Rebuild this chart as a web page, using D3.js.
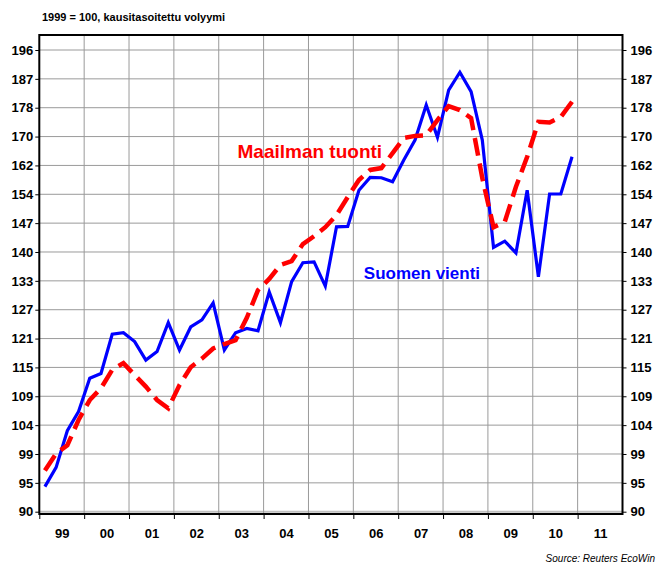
<!DOCTYPE html>
<html>
<head>
<meta charset="utf-8">
<script src="https://cdn.jsdelivr.net/npm/d3@7"></script>
<style>
body { margin: 0; background: #fff; }
svg text { font-family: "Liberation Sans", Arial, sans-serif; }
</style>
</head>
<body>
<svg id="chart"></svg>
<script>
// quarterly data 1999Q1 .. 2010Q4, 1999 = 100
var suomenVienti = [
    93.9, 97.0, 103.2, 106.6, 112.8, 113.7, 121.5, 121.8,
    120.0, 116.3, 118.0, 123.9, 118.3, 123.0, 124.5, 128.1,
    118.3, 121.8, 122.7, 122.2, 130.5, 123.9, 132.8, 137.1,
    137.3, 131.8, 145.7, 145.8, 155.0, 158.4, 158.3, 157.2,
    163.1, 168.7, 179.0, 169.5, 183.6, 189.2, 183.1, 168.7,
    140.7, 142.2, 139.4, 155.0, 133.9, 154.0, 154.0, 164.0
];
var maailmanTuonti = [
    96.5, 99.3, 100.7, 105.1, 108.7, 110.9, 114.4, 115.7,
    113.4, 111.2, 108.7, 107.2, 111.5, 114.9, 116.6, 118.6,
    119.5, 120.3, 124.9, 130.9, 133.4, 136.6, 137.5, 141.5,
    143.4, 145.6, 148.6, 153.2, 157.7, 160.4, 160.9, 165.0,
    169.3, 169.9, 170.1, 174.5, 178.7, 177.5, 175.1, 158.2,
    145.6, 146.9, 155.9, 164.0, 174.0, 173.8, 175.4, 180.0
];
var startYear = 1999;
var yearLabels = ["99","00","01","02","03","04","05","06","07","08","09","10","11"];
var yTickLabels = [90,95,99,104,109,115,121,127,133,140,147,154,162,170,178,187,196];

var screen = {width:666, height:565};
var margins = {left:39.3, right:43.5, top:35, bottom:51};
var graph = {
    width: screen.width - margins.left - margins.right,
    height: screen.height - margins.top - margins.bottom
};

var svg = d3.select("#chart")
    .attr("width", screen.width)
    .attr("height", screen.height);

// x: years, 13 year slots
var xScale = d3.scaleLinear()
    .domain([startYear, startYear + yearLabels.length])
    .range([0, graph.width]);

// y: log scale, ticks step 5% from 90
var tickVals = yTickLabels.map(function(d, i) { return 90 * Math.pow(1.05, i); });
var yScale = d3.scaleLog()
    .domain([tickVals[0], tickVals[tickVals.length - 1]])
    .range([graph.height - 2.3, 15]);

var g = svg.append("g")
    .attr("transform", "translate(" + margins.left + "," + margins.top + ")");

// horizontal grid
g.append("g")
    .selectAll("line")
    .data(tickVals)
    .enter()
    .append("line")
    .attr("x1", 0)
    .attr("x2", graph.width)
    .attr("y1", function(d) { return yScale(d); })
    .attr("y2", function(d) { return yScale(d); })
    .attr("stroke", function(d, i) { return i == 0 ? "#c0c0c0" : "#9a9a9a"; })
    .attr("stroke-width", function(d, i) { return i == 0 ? 2 : 1; });

// vertical grid at year boundaries
var yearBounds = d3.range(1, yearLabels.length).map(function(i) { return startYear + i; });
g.append("g")
    .selectAll("line")
    .data(yearBounds)
    .enter()
    .append("line")
    .attr("x1", function(d) { return xScale(d); })
    .attr("x2", function(d) { return xScale(d); })
    .attr("y1", 0)
    .attr("y2", graph.height)
    .attr("stroke", "#9a9a9a")
    .attr("stroke-width", 1);

// frame
g.append("rect")
    .attr("x", 0).attr("y", 0)
    .attr("width", graph.width).attr("height", graph.height)
    .attr("fill", "none")
    .attr("stroke", "#000")
    .attr("stroke-width", 2);

// axes
var fmt = function(d, i) { return yTickLabels[i]; };
var leftAxis = d3.axisLeft(yScale).tickValues(tickVals).tickFormat(fmt).tickSize(4).tickPadding(2);
var rightAxis = d3.axisRight(yScale).tickValues(tickVals).tickFormat(fmt).tickSize(4).tickPadding(4);

var styleAxis = function(sel) {
    sel.select(".domain").remove();
    sel.selectAll("text")
        .attr("font-size", "13px")
        .attr("font-weight", "bold")
        .attr("fill", "#000");
    sel.selectAll("line").attr("stroke", "#000");
};

g.append("g").call(leftAxis).call(styleAxis);
g.append("g").attr("transform", "translate(" + graph.width + ",0)").call(rightAxis).call(styleAxis);

// bottom ticks at year boundaries
var tickAxis = d3.axisBottom(xScale)
    .tickValues(d3.range(0, yearLabels.length).map(function(i) { return startYear + i; }))
    .tickFormat("")
    .tickSize(5);
g.append("g").attr("transform", "translate(0," + graph.height + ")").call(tickAxis).call(styleAxis);

// year labels centered in each year
var labelAxis = d3.axisBottom(xScale)
    .tickValues(yearLabels.map(function(d, i) { return startYear + i + 0.5; }))
    .tickFormat(function(d, i) { return yearLabels[i]; })
    .tickSize(0)
    .tickPadding(15);
g.append("g").attr("transform", "translate(0," + graph.height + ")").call(labelAxis).call(styleAxis);

// lines
var qx = function(d, i) { return xScale(startYear + (i + 0.5) / 4); };
var line = d3.line()
    .x(qx)
    .y(function(d) { return yScale(d); });

g.append("path")
    .datum(suomenVienti)
    .attr("d", line)
    .attr("fill", "none")
    .attr("stroke", "#0000ff")
    .attr("stroke-width", 3.2)
    .attr("stroke-linejoin", "miter");

g.append("path")
    .datum(maailmanTuonti)
    .attr("d", line)
    .attr("fill", "none")
    .attr("stroke", "#ff0000")
    .attr("stroke-width", 4.5)
    .attr("stroke-dasharray", "18,8");

// series labels
g.append("text")
    .attr("x", xScale(2005.03))
    .attr("y", yScale(163.6))
    .attr("text-anchor", "middle")
    .attr("font-size", "19px")
    .attr("font-weight", "bold")
    .attr("fill", "#ff0000")
    .text("Maailman tuonti");

g.append("text")
    .attr("x", xScale(2007.53))
    .attr("y", yScale(133.4))
    .attr("text-anchor", "middle")
    .attr("font-size", "17px")
    .attr("font-weight", "bold")
    .attr("fill", "#0000ff")
    .text("Suomen vienti");

// header and source
svg.append("text")
    .attr("x", 42)
    .attr("y", 21)
    .attr("font-size", "11px")
    .attr("font-weight", "bold")
    .text("1999 = 100, kausitasoitettu volyymi");

svg.append("text")
    .attr("x", 655)
    .attr("y", 562)
    .attr("text-anchor", "end")
    .attr("font-size", "10px")
    .attr("font-style", "italic")
    .text("Source: Reuters EcoWin");
</script>
</body>
</html>
